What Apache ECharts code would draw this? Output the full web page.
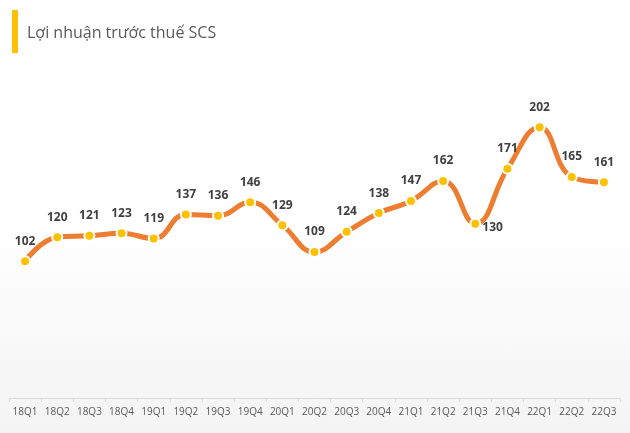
<!DOCTYPE html>
<html><head><meta charset="utf-8">
<script src="https://cdn.jsdelivr.net/npm/echarts@6/dist/echarts.min.js"></script>
<style>html,body{margin:0;padding:0;}#c{width:630px;height:433px;background:linear-gradient(#ffffff 0%,#ffffff 50%,#f4f4f4 100%);}</style>
</head><body><div id="c"></div>
<script>
var categories = ['18Q1','18Q2','18Q3','18Q4','19Q1','19Q2','19Q3','19Q4','20Q1','20Q2','20Q3','20Q4','21Q1','21Q2','21Q3','21Q4','22Q1','22Q2','22Q3'];
var values = [102,120,121,123,119,137,136,146,129,109,124,138,147,162,130,171,202,165,161];
var titleText = 'Lợi nhuận trước thuế SCS';
var chart = echarts.init(document.getElementById('c'));
var data = values.map(function(v, i){
  if (categories[i] === '21Q3') return {value: v, label: {position: 'right', offset: [-7, 4]}};
  return v;
});
chart.setOption({
  backgroundColor: 'transparent',
  title: {text: titleText, left: 22, top: 20, textStyle: {fontFamily: 'Open Sans', fontSize: 16, fontWeight: 'normal', color: '#595959'}},
  graphic: [{type: 'rect', left: 12, top: 10, shape: {width: 6, height: 43}, style: {fill: '#FFC000'}}],
  grid: {left: 9, right: 10, top: 63, bottom: 35},
  xAxis: {type: 'category', data: categories, boundaryGap: true,
    axisLine: {lineStyle: {color: '#d9d9d9'}},
    axisTick: {show: true, interval: 0, lineStyle: {color: '#d9d9d9'}, length: 4},
    axisLabel: {interval: 0, color: '#595959', fontSize: 10, fontFamily: 'Open Sans', margin: 9}},
  yAxis: {type: 'value', min: 0, max: 250, show: false, splitLine: {show: false}},
  series: [{type: 'line', data: data, smooth: 0.45,
    lineStyle: {color: '#ED7D31', width: 5},
    symbol: 'circle', symbolSize: 10,
    itemStyle: {color: '#FFC000', borderColor: '#ffffff', borderWidth: 2},
    label: {show: true, position: 'top', distance: 8, color: '#404040', fontWeight: 'bold', fontSize: 12, fontFamily: 'Open Sans'}
  }]
});
</script></body></html>
